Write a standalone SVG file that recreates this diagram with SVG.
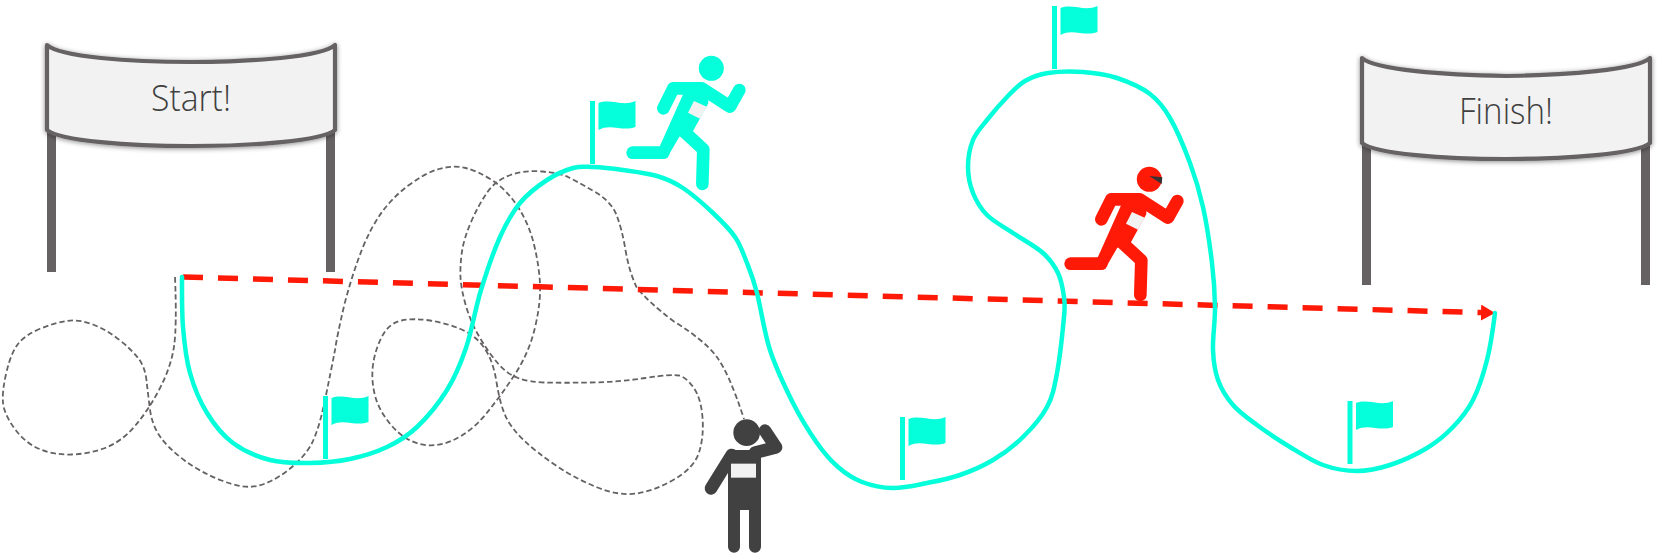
<svg xmlns="http://www.w3.org/2000/svg" width="1665" height="553" viewBox="0 0 1665 553">
<style>
.banner{fill:#f2f2f2;stroke:#666264;stroke-width:4.2;stroke-linejoin:round;filter:url(#sh)}
.post{fill:#666264}
.label{font-family:"Open Sans","Liberation Sans",sans-serif;font-weight:300;font-size:37px;fill:#404040;text-anchor:middle}
.pole{stroke:#05ffda;stroke-width:5;stroke-linecap:butt;fill:none}
.cloth{fill:#05ffda}
.bib{fill:#f2f2f2}
.limb{fill:none;stroke:currentColor;stroke-width:38;stroke-linecap:round;stroke-linejoin:round}
.body{fill:currentColor}
</style>
<defs>
<filter id="sh" x="-5%" y="-10%" width="110%" height="125%"><feDropShadow dx="0" dy="1" stdDeviation="2.5" flood-color="#000" flood-opacity=".45"/></filter>
<marker id="ah" markerUnits="userSpaceOnUse" markerWidth="16" markerHeight="18" refX="0" refY="8" orient="auto"><path d="M0,0L14,8L0,16Z" fill="#ff1a08"/></marker>
<g id="flag"><path class="pole" d="M0,0V63"/><path class="cloth" d="M6,2C18,-3 30,6 43,0V26C30,31 18,22 6,29Z"/></g>
<g id="runner">
<path class="limb" d="M130,205L160,145H245L330,200L358,150"/>
<path class="limb" d="M38,338H130"/>
<path class="limb" d="M185,268L250,328L247,432"/>
<path class="body" d="M195,150L265,150L265,190L218,275L178,290L145,347L118,322Z"/>
<circle class="body" cx="274" cy="85" r="37.500"/>
<path class="bib" d="M222,183L260,200L240,236L204,218Z"/>
</g>
</defs>

<g id="start">
<path class="post" d="M47,130h9v142h-9zM326,130h9v142h-9z"/>
<path class="banner" d="M47,45C60,57 130,62 191,62C252,62 322,57 335,45V130C322,141 252,146 191,146C130,146 60,141 47,130Z"/>
<text class="label" x="191" y="111" textLength="80" lengthAdjust="spacingAndGlyphs">Start!</text>
</g>
<g id="finish" transform="translate(1315,13)">
<path class="post" d="M47,130h9v142h-9zM326,130h9v142h-9z"/>
<path class="banner" d="M47,45C60,57 130,62 191,63C252,62 322,57 335,45V130C322,141 252,146 191,146C130,146 60,141 47,130Z"/>
<text class="label" x="191" y="111" textLength="94" lengthAdjust="spacingAndGlyphs">Finish!</text>
</g>

<g id="connectors">
<path id="wander" fill="none" stroke="#666264" stroke-width="1.8" stroke-dasharray="5.500 3" d="M175,277Q177,326 174,346.500Q171,367 159.500,389Q148,411 134.500,426.500Q121,442 105,448Q89,454 71.500,454.500Q54,455 39.500,449Q25,443 14.500,428.500Q4,414 3,402.500Q2,391 6.500,372Q11,353 18,344Q25,335 39.500,329Q54,323 66.500,321Q79,319 93,324.500Q107,330 119.500,340Q132,350 138.500,358.500Q145,367 146.500,380.500Q148,394 150,409.500Q152,425 160,436.500Q168,448 184,460Q200,472 221.500,480.500Q243,489 257,486Q271,483 287,471Q305,457 312,443Q319,429 325,400Q331,371 335,350Q337,336 344.500,304Q353,272 362,249.500Q371,227 382,212Q393,197 409,185Q425,173 439,169Q453,165 465.500,168Q478,171 492.500,180.500Q507,190 518,207Q529,224 534,244.500Q539,265 540,283.500Q541,302 535,327.500Q529,353 514.500,375Q500,397 485.500,414.500Q471,432 453.500,440Q436,448 420,444Q404,440 391.500,425.500Q379,411 375,395.500Q371,380 373,365Q375,350 382,336.500Q389,323 401.500,320.500Q414,318 430,320.500Q446,323 460.500,329Q475,335 484,347.500Q493,360 496.500,382Q500,404 505.500,416Q511,428 523.500,440Q536,452 556,465.500Q576,479 597.500,487.500Q619,496 636.500,493.500Q654,491 674,479.500Q694,468 699,452.500Q704,437 702.500,417.500Q701,398 693.500,387.500Q686,377 679,375.500Q672,374 645.500,378Q619,382 590,382.500Q561,383 545,382.500Q529,382 518,378Q507,374 498,363.500Q489,353 480,338Q471,323 466,306Q461,289 460.500,277Q460,265 462,251.500Q464,238 471.500,221Q479,204 487.500,192Q496,180 510.500,175Q525,170 542.500,171.500Q560,173 568,177Q576,181 593.500,191Q611,201 616.500,215Q622,229 625.500,250Q629,271 636.500,287Q648,302 674,321.500Q704,340 716.500,356.500Q729,373 744,419"/>
<path id="direct" fill="none" stroke="#ff1a08" stroke-width="5.500" stroke-dasharray="20 15" marker-end="url(#ah)" d="M183,277L1481,312.600"/>
<path id="course" fill="none" stroke="#05ffda" stroke-width="4.500" stroke-linecap="round" d="M182,277C182,294 181.700,311 183,327S186,358.700 190,373S199.800,401.300 207,413S222.500,435.200 233,443S257.200,456.700 270,460S296.700,463.200 310,463S337.200,461.700 350,459S375.800,452.300 387,447S407,436.500 417,427S438.800,403.200 447,390S460.300,364.700 466,348S475.300,308.500 481,290S493.500,251.500 500,237S512.200,212.500 520,203S538.200,185.800 547,180S565.300,170.200 573,168S584.700,166.700 593,167S612.300,168.500 623,170S647,173 657,176S673.700,181.800 683,188S704.300,204.800 713,213S729.300,228.700 735,237S743.300,253.700 747,263S753.200,278.500 757,293S764,331.700 770,350S785.200,387.500 793,403S809.500,432.300 817,443S830.500,460.500 838,467S852.800,478.500 862,482S882.200,487.800 893,488S915.800,485.200 927,483S949,478.800 960,475S982.500,466.300 993,460S1014,445.800 1023,437S1041.300,417.700 1047,407S1054.200,388 1057,373S1062.800,329.700 1064,317S1065,304.300 1064,297S1061.500,280.300 1058,273S1050.500,259.700 1043,253S1022.300,239.300 1013,233S993.700,221.700 987,215S976.200,201 973,193S968,175.800 968,167S969.800,147.800 973,140S981.300,127.200 987,120S1000.700,103.500 1007,97S1018.200,85 1025,81S1038.300,74.500 1048,73S1071.500,71.200 1083,72S1105.800,74.300 1117,78S1141.200,87.300 1150,94S1163.300,106.500 1170,118S1184.500,148.200 1190,163S1199.300,190.300 1203,207S1210,246.300 1212,263S1214.800,292.500 1215,307S1212.500,337.800 1213,350S1214.700,370.800 1218,380S1226.500,397.500 1233,405S1247.500,418 1257,425S1279,440.300 1290,447S1311.800,461 1323,465S1345.800,471 1357,471S1378.300,468.800 1390,465S1416.500,454.300 1427,448S1445.300,435 1453,427S1467.300,411.200 1473,400S1483.300,374.500 1487,360S1493,329 1495,313"/>
</g>

<use id="flag1" href="#flag" x="325.500" y="396"/>
<use id="flag2" href="#flag" x="592.500" y="101"/>
<use id="flag3" href="#flag" x="902.500" y="417"/>
<use id="flag4" href="#flag" x="1054.500" y="6"/>
<use id="flag5" href="#flag" x="1350" y="401"/>

<g id="runner-teal" transform="translate(620,40) scale(.3333)" color="#05ffda"><use href="#runner"/></g>
<g id="runner-red" transform="translate(1058,151) scale(.3333)" color="#ff1a08"><use href="#runner"/><path d="M274,75L313,79L311,99Z" fill="#333"/></g>

<g id="walker" transform="translate(690,400) scale(.3333)" color="#414141">
<circle class="body" cx="170" cy="98" r="40"/>
<path class="limb" d="M125,165L63,265"/>
<path class="limb" d="M195,158L258,142L225,92"/>
<path class="body" d="M114,165Q114,150 130,150H213V440A18,18 0 0 1 177,440V330H150V440A18,18 0 0 1 114,440Z"/>
<rect class="bib" x="123" y="191" width="75" height="42"/>
</g>
</svg>
